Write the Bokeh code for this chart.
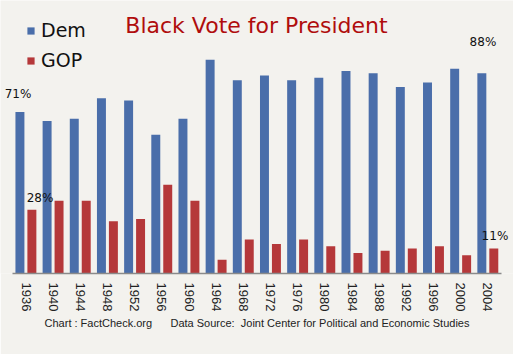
from bokeh.plotting import figure
from bokeh.models import ColumnDataSource, Legend, LegendItem, Label, FactorRange, Title
from bokeh.transform import dodge
from bokeh.embed import file_html
from bokeh.resources import INLINE

years = ["1936", "1940", "1944", "1948", "1952", "1956", "1960", "1964", "1968",
         "1972", "1976", "1980", "1984", "1988", "1992", "1996", "2000", "2004"]
dem = [71, 67, 68, 77, 76, 61, 68, 94, 85, 87, 85, 86, 89, 88, 82, 84, 90, 88]
gop = [28, 32, 32, 23, 24, 39, 32, 6, 15, 13, 15, 12, 9, 10, 11, 12, 8, 11]

title_text = "Black Vote for President"
NB = "\u00a0"
footer_text = ("Chart : FactCheck.org" + NB * 6 + "Data Source:" + NB * 2 +
               "Joint Center for Political and Economic Studies")

BG = "#f3f2ee"
BLUE = "#4a6eaa"
RED = "#b5383a"

src = ColumnDataSource(dict(year=years, dem=dem, gop=gop))

p = figure(width=513, height=354,
           x_range=FactorRange(*years, range_padding=0.44, range_padding_units="absolute"),
           y_range=(0, 120),
           output_backend="svg", toolbar_location=None,
           min_border_left=0, min_border_right=0, min_border_top=0, min_border_bottom=81,
           background_fill_color=BG, border_fill_color=BG, outline_line_color=None)

r_dem = p.vbar(x=dodge("year", -0.225, range=p.x_range), top="dem", width=0.33,
               source=src, color=BLUE, line_color=None)
r_gop = p.vbar(x=dodge("year", 0.215, range=p.x_range), top="gop", width=0.33,
               source=src, color=RED, line_color=None)

p.xgrid.visible = False
p.ygrid.visible = False
p.yaxis.visible = False
p.x_range.group_padding = 0

ax = p.xaxis[0]
ax.bounds = (0, len(years))
ax.axis_line_color = "#8a8a8a"
ax.axis_line_width = 1.5
ax.major_tick_line_color = None
ax.minor_tick_line_color = None
ax.major_label_orientation = -1.5708
ax.major_label_standoff = 3
ax.major_label_text_font = "Liberation Sans"
ax.major_label_text_font_size = "13px"
ax.major_label_text_color = "#222222"

# value labels for first and last election; synthetic x of a category = index + 0.5
i0 = 0 + 0.5
i1 = len(years) - 1 + 0.5
lab = dict(text_font="DejaVu Sans", text_font_size="12px", text_color="#111111",
           text_align="center", text_baseline="middle")
p.add_layout(Label(x=i0, y=dem[0], text="%d%%" % dem[0], x_offset=-8, y_offset=18, **lab))
p.add_layout(Label(x=i0, y=gop[0], text="%d%%" % gop[0], x_offset=14, y_offset=12, **lab))
p.add_layout(Label(x=i1, y=dem[-1], text="%d%%" % dem[-1], x_offset=-5, y_offset=31, **lab))
p.add_layout(Label(x=i1, y=gop[-1], text="%d%%" % gop[-1], x_offset=7, y_offset=12, **lab))

legend = Legend(items=[LegendItem(label="Dem", renderers=[r_dem]),
                       LegendItem(label="GOP", renderers=[r_gop])],
                location=(26, 198), background_fill_alpha=0, border_line_color=None,
                glyph_width=9, glyph_height=9, label_text_font="DejaVu Sans",
                label_text_font_size="19px", label_text_color="#111111",
                label_height=30, margin=0, padding=4, spacing=0, label_standoff=6)
p.add_layout(legend)

p.add_layout(Label(x=256, y=248, x_units="screen", y_units="screen", text=title_text,
                   text_font="DejaVu Sans", text_font_size="22px", text_color="#b00d0d",
                   text_align="center", text_baseline="middle"))

footer = Title(text=footer_text, align="center", text_font="Liberation Sans",
               text_font_size="11px", text_font_style="normal", text_color="#222222",
               standoff=0, offset=0)
p.add_layout(footer, "below")

open("out.html", "w").write(file_html(p, INLINE))
